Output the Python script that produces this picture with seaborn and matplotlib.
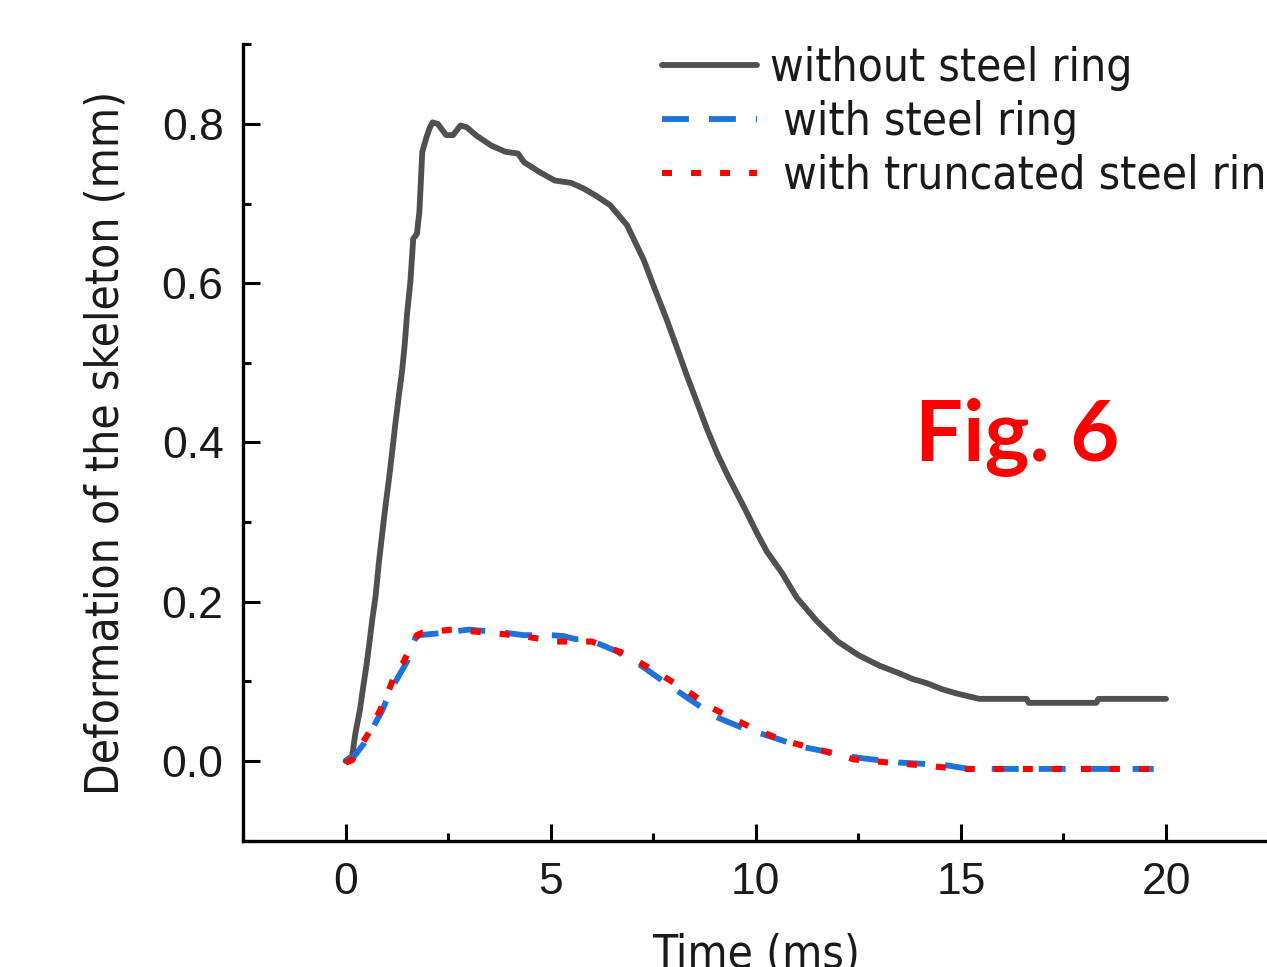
import pandas as pd
import seaborn as sns
import matplotlib.pyplot as plt
from matplotlib.ticker import MultipleLocator

# Deformation of the skeleton (mm) vs. time (ms)
t_without = [0.0, 0.16, 0.24, 0.35, 0.43, 0.51, 0.58, 0.66, 0.73, 0.81, 0.89, 0.97,
             1.06, 1.14, 1.22, 1.30, 1.38, 1.44, 1.50, 1.58, 1.65, 1.74, 1.80, 1.87,
             1.97, 2.05, 2.12, 2.25, 2.45, 2.62, 2.80, 2.95, 3.20, 3.55, 3.90, 4.20,
             4.35, 4.75, 5.10, 5.50, 5.80, 6.10, 6.45, 6.86, 7.27, 7.55, 7.83, 8.07,
             8.32, 8.57, 8.81, 9.06, 9.30, 9.54, 9.79, 10.03, 10.27, 10.64, 11.0, 11.5,
             12.0, 12.5, 13.0, 13.5, 13.82, 14.15, 14.55, 14.88, 15.2, 15.45, 16.6,
             16.65, 18.3, 18.35, 20.0]
d_without = [0.0, 0.006, 0.035, 0.064, 0.093, 0.12, 0.148, 0.181, 0.206, 0.248, 0.284, 0.319,
             0.355, 0.39, 0.426, 0.459, 0.491, 0.522, 0.562, 0.602, 0.656, 0.662, 0.69, 0.765,
             0.783, 0.795, 0.802, 0.80, 0.786, 0.786, 0.798, 0.796, 0.785, 0.773, 0.765, 0.763,
             0.752, 0.739, 0.729, 0.726, 0.719, 0.71, 0.698, 0.673, 0.629, 0.591, 0.554, 0.52,
             0.484, 0.450, 0.417, 0.386, 0.36, 0.336, 0.311, 0.286, 0.263, 0.236, 0.205, 0.175,
             0.15, 0.133, 0.12, 0.11, 0.103, 0.098, 0.09, 0.085, 0.081, 0.078, 0.078,
             0.073, 0.073, 0.078, 0.078]

t_ring = [0.0, 0.2, 0.45, 0.7, 0.9, 1.1, 1.3, 1.5, 1.6, 1.7, 1.8, 2.4, 3.0, 3.9, 4.35,
          5.0, 5.3, 5.6, 5.9, 6.6, 7.2, 7.8, 8.4, 9.0, 9.7, 10.4, 11.1, 11.9, 12.5,
          13.5, 14.6, 15.2, 16.5, 18.0, 19.7]
d_ring = [0.0, 0.005, 0.022, 0.045, 0.064, 0.089, 0.107, 0.125, 0.142, 0.154, 0.158, 0.161,
          0.165, 0.161, 0.158, 0.158, 0.157, 0.153, 0.153, 0.138, 0.12, 0.098, 0.077, 0.056,
          0.041, 0.03, 0.018, 0.01, 0.004, -0.002, -0.005, -0.01, -0.01, -0.01, -0.01]

t_trunc = [0.0, 0.16, 0.56, 0.97, 1.26, 1.41, 1.6, 1.74, 1.87, 2.6, 3.5, 4.3, 5.15, 6.0,
           6.8, 7.5, 8.3, 8.95, 9.85, 10.65, 11.55, 12.4, 13.25, 14.15, 15.0, 16.5, 18.0, 19.7]
d_trunc = [-0.002, 0.001, 0.035, 0.077, 0.117, 0.124, 0.145, 0.158, 0.161, 0.165, 0.161,
           0.157, 0.15, 0.15, 0.135, 0.114, 0.089, 0.066, 0.043, 0.026, 0.014, 0.002,
           -0.002, -0.006, -0.01, -0.01, -0.01, -0.01]

labels = ['without steel ring', ' with steel ring', ' with truncated steel ring']
x_ticks = [0, 5, 10, 15, 20]
y_ticks = [0.0, 0.2, 0.4, 0.6, 0.8]

sns.set_style('ticks')
plt.rcParams['lines.scale_dashes'] = False

fig = plt.figure(figsize=(12.67, 9.67), dpi=100)
ax = fig.add_axes([243 / 1267, 1 - 840.6 / 967, 1025.6 / 1267, 796.25 / 967])

series = [
    (t_without, d_without, '#505050', 4.2, None),
    (t_ring, d_ring, '#1e72dc', 4.2, (19.4, 14.4)),
    (t_trunc, d_trunc, '#ff0000', 4.4, (7.2, 13.7)),
]
for (t, d, col, lw, dash), lab in zip(series, labels):
    df = pd.DataFrame({'time': t, 'deform': d})
    sns.lineplot(data=df, x='time', y='deform', ax=ax, color=col, lw=lw,
                 estimator=None, sort=False, label=lab, legend=False)
    if dash is not None:
        ax.lines[-1].set_dashes(dash)

ax.set_xlim(-2.5, 22.5)
ax.set_ylim(-0.1, 0.9)
ax.set_xticks(x_ticks)
ax.set_yticks(y_ticks)
ax.set_xticklabels([str(v) for v in x_ticks])
ax.set_yticklabels([f'{v:.1f}' for v in y_ticks])
ax.xaxis.set_minor_locator(MultipleLocator(2.5))
ax.yaxis.set_minor_locator(MultipleLocator(0.1))

for s in ['top', 'right']:
    ax.spines[s].set_visible(False)
for s in ['left', 'bottom']:
    ax.spines[s].set_linewidth(2.4)
    ax.spines[s].set_color('black')

ax.tick_params(axis='both', which='major', direction='in', length=12.2, width=2.2,
               color='black', labelsize=32, labelcolor='#1a1a1a')
ax.tick_params(axis='both', which='minor', direction='in', length=5.8, width=2.2,
               color='black')
ax.tick_params(axis='x', which='major', pad=15.5)
ax.tick_params(axis='y', which='major', pad=14)
for lbl in ax.get_xticklabels() + ax.get_yticklabels():
    lbl.set_fontfamily('Liberation Sans')

cond = ['DejaVu Sans Condensed', 'DejaVu Sans']
ax.set_xlabel('Time (ms)', fontsize=33, family=cond, fontstretch='condensed',
              color='#1a1a1a', labelpad=21)
ax.set_ylabel('Deformation of the skeleton (mm)', fontsize=33, family=cond,
              fontstretch='condensed', color='#1a1a1a', labelpad=24)

leg = ax.legend(loc='upper left', bbox_to_anchor=(662 / 1267, 1 - 46 / 967),
                bbox_transform=fig.transFigure, frameon=False, borderpad=0,
                borderaxespad=0, handlelength=2.07, handletextpad=0.28,
                labelspacing=0.2, prop={'family': cond, 'stretch': 'condensed', 'size': 33})
for txt in leg.get_texts():
    txt.set_color('#1a1a1a')

fig.text(915 / 1267, 1 - 460 / 967, 'Fig. 6', color='#ff0000', fontsize=61,
         fontweight='bold', family='Lato', ha='left', va='baseline')

fig.savefig('out.png', dpi=100)
